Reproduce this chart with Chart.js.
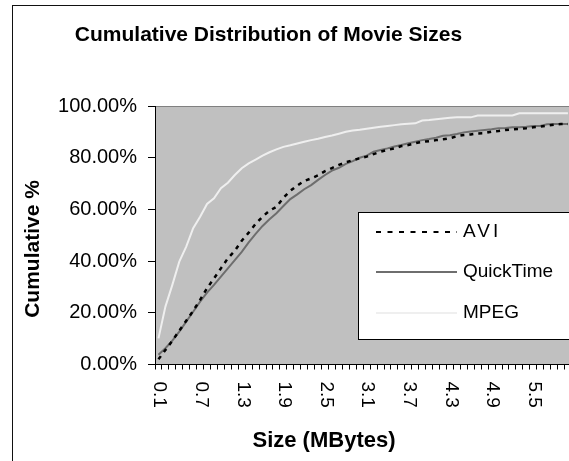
<!DOCTYPE html>
<html>
<head>
<meta charset="utf-8">
<script src="https://cdn.jsdelivr.net/npm/chart.js@4"></script>
<style>
  html, body { margin: 0; padding: 0; overflow: hidden; background: #fff; width: 569px; height: 461px; }
  #frame { position: absolute; left: 12px; top: 5px; width: 700px; height: 600px;
           border-left: 1px solid #111; border-top: 1px solid #111; }
  #wrap { position: absolute; left: 0; top: 0; width: 600px; height: 480px; }
</style>
</head>
<body>
<div id="frame"></div>
<div id="wrap"><canvas id="c" width="600" height="480"></canvas></div>
<script>
// Movie size buckets (MBytes)
const sizes = [
  '0.1','0.2','0.3','0.4','0.5','0.6','0.7','0.8','0.9','1.0',
  '1.1','1.2','1.3','1.4','1.5','1.6','1.7','1.8','1.9','2.0',
  '2.1','2.2','2.3','2.4','2.5','2.6','2.7','2.8','2.9','3.0',
  '3.1','3.2','3.3','3.4','3.5','3.6','3.7','3.8','3.9','4.0',
  '4.1','4.2','4.3','4.4','4.5','4.6','4.7','4.8','4.9','5.0',
  '5.1','5.2','5.3','5.4','5.5','5.6','5.7','5.8','5.9','6.0'
];

// Cumulative share of movies (%) per format
const avi = [
  2.0, 5.6, 9.2, 13.1, 16.9, 20.8, 25.0, 29.5, 33.3, 37.2,
  41.1, 44.0, 47.9, 51.0, 54.4, 57.2, 59.5, 61.0, 64.5, 67.2,
  69.2, 71.0, 72.0, 73.2, 74.8, 76.0, 77.2, 78.2, 79.0, 79.8,
  80.4, 81.4, 82.3, 83.0, 83.6, 84.5, 84.9, 85.6, 86.1, 86.4,
  86.8, 87.1, 87.5, 88.3, 88.8, 89.0, 89.4, 89.5, 90.1, 90.3,
  90.7, 91.0, 91.1, 91.4, 91.8, 92.0, 92.4, 92.8, 93.0, 93.0
];
const quickTime = [
  3.8, 6.3, 9.2, 12.7, 16.6, 20.4, 24.3, 27.8, 30.8, 34.0,
  37.2, 40.4, 43.6, 47.2, 50.5, 53.6, 56.2, 58.5, 61.3, 64.0,
  65.8, 67.8, 69.4, 71.4, 73.3, 75.0, 76.1, 77.6, 78.7, 80.0,
  80.8, 82.3, 83.0, 83.6, 84.3, 84.9, 85.6, 86.2, 86.8, 87.2,
  87.7, 88.5, 88.7, 89.2, 89.8, 90.1, 90.4, 90.7, 91.0, 91.4,
  91.5, 91.8, 91.8, 92.0, 92.3, 92.3, 92.9, 93.0, 93.0, 93.0
];
const mpeg = [
  10.1, 22.4, 30.8, 39.8, 45.6, 52.7, 57.2, 62.1, 64.3, 68.2,
  70.3, 73.3, 75.9, 77.8, 79.3, 80.8, 82.1, 83.2, 84.2, 84.8,
  85.5, 86.2, 86.8, 87.3, 88.0, 88.6, 89.3, 90.0, 90.5, 90.8,
  91.2, 91.6, 92.0, 92.3, 92.6, 92.9, 93.1, 93.3, 94.4, 94.6,
  94.9, 95.2, 95.5, 95.6, 95.6, 95.6, 96.3, 96.3, 96.3, 96.3,
  96.3, 96.3, 97.2, 97.2, 97.2, 97.2, 97.2, 97.2, 97.2, 97.2
];

const yTicks = [0, 20, 40, 60, 80, 100];
const xLabelEvery = 6;

const FONT = "'Liberation Sans', Arial, sans-serif";
Chart.defaults.font.family = FONT;
Chart.defaults.color = '#000';

// Grey plot background with a thin border along the top
const plotBackground = {
  id: 'plotBackground',
  beforeDraw(chart) {
    const { ctx, chartArea: a } = chart;
    ctx.save();
    ctx.fillStyle = '#c0c0c0';
    ctx.fillRect(a.left, a.top, a.right - a.left, a.bottom - a.top);
    ctx.strokeStyle = '#808080';
    ctx.lineWidth = 1;
    ctx.beginPath();
    ctx.moveTo(a.left, a.top + 0.5);
    ctx.lineTo(a.right, a.top + 0.5);
    ctx.stroke();
    ctx.restore();
  }
};

// Titles, rotated category labels and the boxed legend
const decorations = {
  id: 'decorations',
  afterDraw(chart) {
    const { ctx, chartArea: a } = chart;
    const xs = chart.scales.x;
    ctx.save();

    // category labels, every sixth bucket, reading downwards
    ctx.fillStyle = '#000';
    ctx.font = '19px ' + FONT;
    ctx.textAlign = 'left';
    ctx.textBaseline = 'middle';
    sizes.forEach((s, i) => {
      if (i % xLabelEvery !== 0) return;
      const x = xs.getPixelForValue(i);
      ctx.save();
      ctx.translate(x + 1, a.bottom + 17);
      ctx.rotate(Math.PI / 2);
      ctx.fillText(s, 0, 0);
      ctx.restore();
    });

    // chart title
    ctx.font = 'bold 21px ' + FONT;
    ctx.textAlign = 'center';
    ctx.textBaseline = 'middle';
    ctx.fillText('Cumulative Distribution of Movie Sizes', 268.5, 35);

    // x axis title
    ctx.font = 'bold 22px ' + FONT;
    ctx.fillText('Size (MBytes)', 324, 441);

    // y axis title
    ctx.save();
    ctx.font = 'bold 21px ' + FONT;
    ctx.translate(33, 249);
    ctx.rotate(-Math.PI / 2);
    ctx.fillText('Cumulative %', 0, 0);
    ctx.restore();

    // legend box
    const bx = 358.5, by = 212.5, bw = 212, bh = 127;
    ctx.fillStyle = '#fff';
    ctx.fillRect(bx, by, bw, bh);
    ctx.strokeStyle = '#000';
    ctx.lineWidth = 1;
    ctx.strokeRect(bx, by, bw, bh);

    const rows = [232, 272, 313];
    chart.data.datasets.forEach((ds, i) => {
      const y = rows[i];
      ctx.save();
      ctx.strokeStyle = ds.borderColor;
      ctx.lineWidth = ds.borderDash ? 2 : ds.borderWidth;
      ctx.setLineDash(ds.borderDash ? [5, 6.5] : []);
      ctx.beginPath();
      ctx.moveTo(376, y);
      ctx.lineTo(457, y);
      ctx.stroke();
      ctx.restore();

      ctx.save();
      ctx.fillStyle = '#000';
      ctx.font = '19px ' + FONT;
      ctx.textAlign = 'left';
      ctx.textBaseline = 'middle';
      if (ds.label === 'AVI') ctx.letterSpacing = '3px';
      ctx.fillText(ds.label, 463, y);
      ctx.restore();
    });

    ctx.restore();
  }
};

new Chart(document.getElementById('c'), {
  type: 'line',
  data: {
    labels: sizes,
    datasets: [
      { label: 'AVI', data: avi, borderColor: '#000', borderWidth: 2.5, borderDash: [4, 5], order: 0 },
      { label: 'QuickTime', data: quickTime, borderColor: '#6e6e6e', borderWidth: 2, order: 1 },
      { label: 'MPEG', data: mpeg, borderColor: '#efefef', borderWidth: 2, order: 2 }
    ]
  },
  options: {
    responsive: false,
    animation: false,
    devicePixelRatio: 1,
    layout: { padding: { top: 106, right: 28.6, left: 0, bottom: 0 } },
    elements: { point: { radius: 0 }, line: { tension: 0 } },
    plugins: { legend: { display: false }, title: { display: false }, tooltip: { enabled: false } },
    scales: {
      x: {
        type: 'category',
        offset: true,
        grid: { offset: true, drawOnChartArea: false, color: '#000', tickLength: 5, lineWidth: 1 },
        border: { display: true, color: '#000', width: 1 },
        ticks: { display: false, autoSkip: false },
        afterFit(s) { s.height = 115.5; }
      },
      y: {
        min: 0,
        max: 100,
        grid: { drawOnChartArea: false, color: '#000', tickLength: 7, lineWidth: 1 },
        border: { display: true, color: '#000', width: 1 },
        ticks: {
          padding: 11,
          font: { size: 20 },
          color: '#000',
          callback: v => v.toFixed(2) + '%'
        },
        afterBuildTicks(s) { s.ticks = yTicks.map(v => ({ value: v })); },
        afterFit(s) { s.width = 155; }
      }
    }
  },
  plugins: [plotBackground, decorations]
});
</script>
</body>
</html>
